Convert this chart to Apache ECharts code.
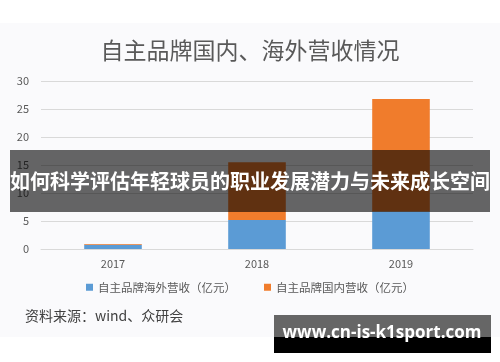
<!DOCTYPE html>
<html><head><meta charset="utf-8">
<script src="https://cdn.jsdelivr.net/npm/echarts@6/dist/echarts.min.js"></script>
<style>html,body{margin:0;padding:0;background:#fff}#c{width:500px;height:362px}</style>
</head><body><div id="c"></div>
<script>
var categories = ['2017', '2018', '2019'];
var overseas = [0.75, 5.2, 6.7];
var domestic = [0.15, 10.3, 20.1];
var seriesNames = ['自主品牌海外营收（亿元）', '自主品牌国内营收（亿元）'];
var yTicks = [0, 5, 10, 15, 20, 25, 30];

var cjk = '"Noto Sans CJK SC", "Microsoft YaHei", sans-serif';
var chart = echarts.init(document.getElementById('c'), null, {renderer: 'canvas'});
chart.setOption({
  animation: false,
  backgroundColor: '#ffffff',
  title: {
    text: '自主品牌国内、海外营收情况',
    left: 'center', top: 34,
    textStyle: {fontFamily: cjk, fontSize: 23, fontWeight: 'normal', color: '#595959'}
  },
  grid: {left: 41, right: 27, top: 81, bottom: 113, containLabel: false},
  xAxis: {
    type: 'category', data: categories,
    axisLine: {lineStyle: {color: '#d9d9d9'}},
    axisTick: {show: false},
    axisLabel: {color: '#595959', fontSize: 11, fontFamily: cjk, margin: 9}
  },
  yAxis: {
    type: 'value', min: yTicks[0], max: yTicks[yTicks.length - 1], interval: 5,
    axisLine: {show: false}, axisTick: {show: false},
    splitLine: {lineStyle: {color: '#d9d9d9'}},
    axisLabel: {color: '#595959', fontSize: 11, fontFamily: cjk, margin: 12}
  },
  legend: {
    bottom: 64, left: 'center', itemGap: 28, itemWidth: 7, itemHeight: 7,
    icon: 'rect',
    textStyle: {color: '#595959', fontSize: 11.5, fontFamily: cjk},
    data: seriesNames
  },
  series: [
    {name: seriesNames[0], type: 'bar', stack: 's', barWidth: '40%', data: overseas,
     itemStyle: {color: '#5B9BD5'}},
    {name: seriesNames[1], type: 'bar', stack: 's', barWidth: '40%', data: domestic,
     itemStyle: {color: '#F07C2C'}}
  ],
  graphic: [
    {type: 'rect', z: -10, silent: true, shape: {x: 0, y: 23, width: 500, height: 314},
     style: {fill: '#fafafc'}},
    {type: 'text', z: 10, left: 25, top: 309,
     style: {text: '资料来源：wind、众研会', font: '14px "Noto Sans CJK SC", sans-serif', fill: '#404040'}},
    {type: 'rect', z: 100, silent: true, shape: {x: 10, y: 150, width: 480, height: 62},
     style: {fill: 'rgba(0,0,0,0.6)'}},
    {type: 'text', z: 101, x: 250, y: 181,
     style: {text: '如何科学评估年轻球员的职业发展潜力与未来成长空间', font: 'bold 20px "Noto Sans CJK SC", sans-serif',
             fill: '#ffffff', align: 'center', verticalAlign: 'middle'}},
    {type: 'rect', z: 100, silent: true, shape: {x: 274, y: 315, width: 217, height: 22},
     style: {fill: '#666666'}},
    {type: 'rect', z: 100, silent: true, shape: {x: 274, y: 337, width: 217, height: 16},
     style: {fill: '#000000'}},
    {type: 'text', z: 101, x: 382, y: 333,
     style: {text: 'www.cn-is-k1sport.com', font: 'bold 17px "Open Sans", sans-serif',
             fill: '#ffffff', align: 'center', verticalAlign: 'middle'}}
  ]
});
</script></body></html>
